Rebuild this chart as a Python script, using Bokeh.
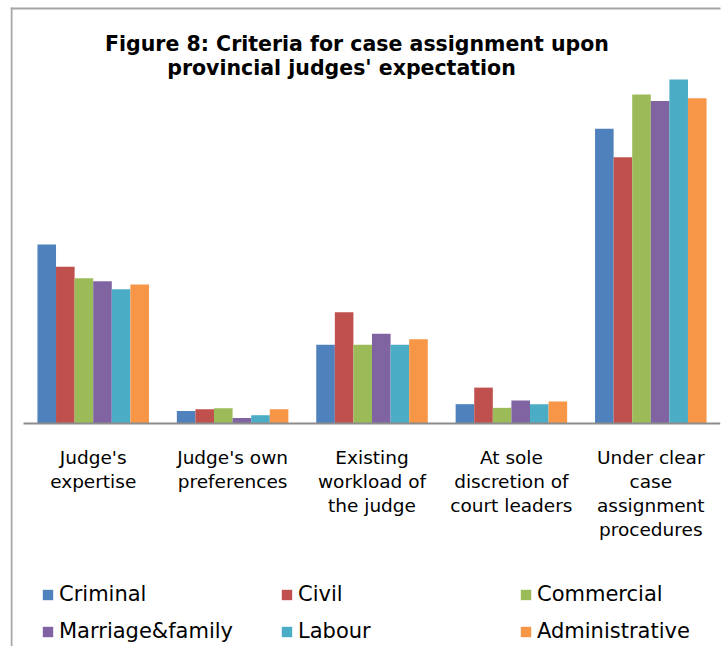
from bokeh.plotting import figure
from bokeh.models import ColumnDataSource, Range1d, Label, BoxAnnotation, FixedTicker
from bokeh.transform import dodge
from bokeh.embed import file_html
from bokeh.resources import INLINE

# ---- data (arbitrary units) ----
categories = [
    "Judge's\nexpertise",
    "Judge's own\npreferences",
    "Existing\nworkload of\nthe judge",
    "At sole\ndiscretion of\ncourt leaders",
    "Under clear\ncase\nassignment\nprocedures",
]
series_names = ["Criminal", "Civil", "Commercial", "Marriage&family", "Labour", "Administrative"]
criminal = [38.9, 2.7, 17.1, 4.2, 64.1]
civil = [34.1, 3.1, 24.2, 7.8, 57.9]
commercial = [31.6, 3.3, 17.1, 3.4, 71.5]
marriage_family = [30.9, 1.2, 19.5, 5.0, 70.1]
labour = [29.2, 1.8, 17.1, 4.2, 74.8]
administrative = [30.2, 3.1, 18.3, 4.8, 70.7]
title_line1 = "Figure 8: Criteria for case assignment  upon"
title_line2 = "provincial judges' expectation"

colors = ["#4F81BD", "#C0504D", "#9BBB59", "#8064A2", "#4BACC6", "#F79646"]
keys = ["criminal", "civil", "commercial", "marriage", "labour", "administrative"]

idx = list(range(len(categories)))
source = ColumnDataSource(data=dict(
    idx=idx,
    cat=categories,
    criminal=criminal,
    civil=civil,
    commercial=commercial,
    marriage=marriage_family,
    labour=labour,
    administrative=administrative,
))

FONT = "DejaVu Sans"
W, H = 722, 646
PX_PER_UNIT = 4.6      # vertical pixels per value unit
PX_PER_CAT = 139.4     # horizontal pixels per category
BASE_FROM_TOP = 423
LEFT = 10              # frame left edge (= chart-area border)
FIRST_CENTER = 92.7

x_start = -(FIRST_CENTER - LEFT) / PX_PER_CAT
x_end = x_start + (W - 2 - LEFT) / PX_PER_CAT

p = figure(
    x_range=Range1d(x_start, x_end),
    y_range=Range1d(-(H - BASE_FROM_TOP) / PX_PER_UNIT, BASE_FROM_TOP / PX_PER_UNIT),
    width=W, height=H,
    output_backend="svg", toolbar_location=None,
    min_border_left=LEFT, min_border_right=2, min_border_top=0, min_border_bottom=0,
)
p.outline_line_color = None
p.xgrid.visible = False
p.ygrid.visible = False
p.yaxis.visible = False

bw = 0.8 / 6
offsets = [-0.4 + bw * (i + 0.5) for i in range(6)]
for k, name, col, off in zip(keys, series_names, colors, offsets):
    p.vbar(x=dodge("idx", off), top=k, bottom=0, width=bw,
           source=source, fill_color=col, line_color=None, legend_label=name)

ax = p.xaxis[0]
ax.fixed_location = 0
ax.bounds = (-0.5, len(categories) - 0.5)
ax.ticker = FixedTicker(ticks=idx)
ax.major_label_overrides = {i: c for i, c in zip(idx, categories)}
ax.axis_line_color = "#8c8c8c"
ax.axis_line_width = 2
ax.major_tick_line_color = None
ax.minor_tick_line_color = None
ax.major_tick_out = 0
ax.major_tick_in = 0
ax.major_label_standoff = 23
ax.major_label_text_font = FONT
ax.major_label_text_font_size = "18.5px"
ax.major_label_text_color = "black"
ax.major_label_text_line_height = 1.15

lg = p.legend[0]
lg.orientation = "horizontal"
lg.ncols = 3
lg.location = (41 - LEFT, 3)
lg.label_text_font = FONT
lg.label_text_font_size = "21px"
lg.label_text_color = "black"
lg.glyph_width = 13
lg.glyph_height = 13
lg.label_standoff = 5
lg.spacing = 13
lg.label_width = 208
lg.padding = 0
lg.margin = 0
lg.border_line_color = None
lg.background_fill_alpha = 0

for txt, x, y in [(title_line1, 360, 43), (title_line2, 341, 67)]:
    p.add_layout(Label(x=x - LEFT, y=H - y, x_units="screen", y_units="screen", text=txt,
                       text_font=FONT, text_font_style="bold", text_font_size="20.5px",
                       text_align="center", text_baseline="middle", text_color="black"))

# chart-area border (left and top edges; the rest is cropped in the original)
for l, r, t, b in [(10, 12, 7, H), (10, W, 7, 9)]:
    p.add_layout(BoxAnnotation(left=l, right=r, top=t, bottom=b,
                               left_units="canvas", right_units="canvas",
                               top_units="canvas", bottom_units="canvas",
                               fill_color="#a6a6a6", fill_alpha=1, line_color=None,
                               level="overlay"))

open("out.html", "w").write(file_html(p, INLINE))
